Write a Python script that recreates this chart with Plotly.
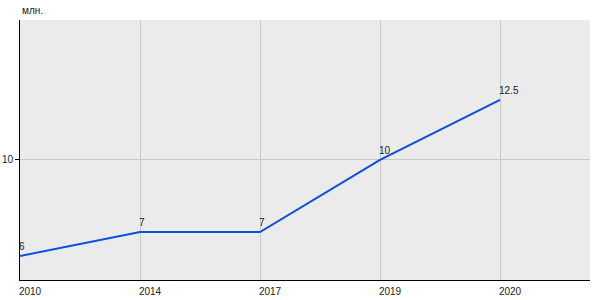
import plotly.graph_objects as go

years = ["2010", "2014", "2017", "2019", "2020"]
values = [6, 7, 7, 10, 12.5]
labels = ["6", "7", "7", "10", "12.5"]
unit = "млн."

xpos = list(range(len(years)))

fig = go.Figure()
fig.add_trace(go.Scatter(
    x=xpos, y=values, mode="lines",
    line=dict(color="#0a4fe0", width=2),
    cliponaxis=False, hoverinfo="skip",
))

annotations = [dict(
    text=unit, xref="paper", yref="paper", x=0, y=1,
    xanchor="left", yanchor="bottom", yshift=2, showarrow=False,
    font=dict(size=10, color="#222"),
)]
for xi, yi, t in zip(xpos, values, labels):
    annotations.append(dict(
        x=xi, y=yi, text=t, xref="x", yref="y", showarrow=False,
        xanchor="left", yanchor="bottom", xshift=-3, yshift=2,
        font=dict(size=10, color="#222"),
    ))

fig.update_layout(
    width=600, height=300,
    margin=dict(l=20, r=10, t=20, b=20, autoexpand=False),
    paper_bgcolor="white", plot_bgcolor="#ebebeb",
    showlegend=False,
    font=dict(family="Liberation Sans, Arial", size=10, color="#222"),
    xaxis=dict(
        range=[0, 4.75], tickvals=xpos, ticktext=years,
        showgrid=True, gridcolor="#c8c8c8", gridwidth=1,
        showline=True, linecolor="black", linewidth=1,
        zeroline=False, ticks="", ticklabelshift=10, ticklabelstandoff=2,
        tickfont=dict(size=10), automargin=False,
    ),
    yaxis=dict(
        range=[5, 15.83], tickvals=[10], ticktext=["10"],
        showgrid=True, gridcolor="#c8c8c8", gridwidth=1,
        showline=True, linecolor="black", linewidth=1,
        zeroline=False, ticks="outside", ticklen=4, tickcolor="black",
        tickfont=dict(size=10), automargin=False, ticklabelstandoff=0,
    ),
    annotations=annotations,
)

fig.write_html("out.html")
